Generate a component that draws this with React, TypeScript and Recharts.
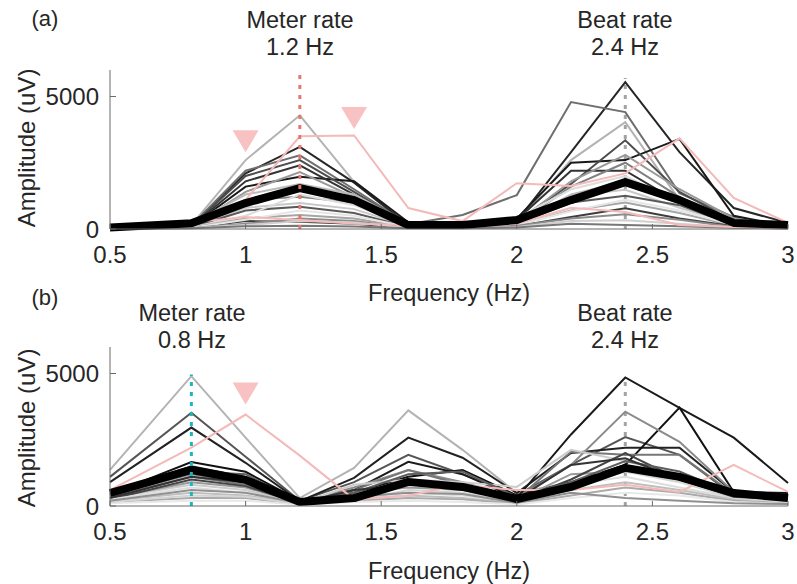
import React from "react";
import { LineChart, Line, XAxis, YAxis, ReferenceLine, ReferenceDot } from "recharts";

const FREQS = [0.5, 0.8, 1.0, 1.2, 1.4, 1.6, 1.8, 2.0, 2.2, 2.4, 2.6, 2.8, 3.0];
const X_TICKS = [0.5, 1, 1.5, 2, 2.5, 3];
const Y_TICKS = [0, 5000];

// (a) meter at 1.2 Hz, beat at 2.4 Hz
const SUBJECTS_A = [
  [60, 150, 2600, 4290, 1780, 120, 80, 250, 2600, 4030, 1090, 250, 80],
  [50, 120, 2100, 3100, 1750, 150, 100, 300, 2900, 5540, 2900, 790, 230],
  [50, 130, 2200, 2780, 1500, 180, 530, 1280, 4790, 4410, 1350, 450, 100],
  [40, 100, 1600, 1970, 1800, 250, 150, 400, 2500, 2600, 3400, 500, 100],
  [40, 100, 2000, 2600, 1400, 150, 120, 300, 1700, 3350, 1400, 300, 80],
  [30, 90, 1800, 2400, 1300, 150, 150, 350, 2200, 2200, 1000, 250, 60],
  [30, 100, 1400, 2150, 1200, 200, 120, 250, 1800, 2800, 1500, 400, 100],
  [30, 100, 1100, 1215, 1000, 150, 100, 200, 1600, 2500, 1200, 300, 80],
  [20, 80, 800, 980, 750, 100, 150, 300, 1250, 1480, 800, 200, 60],
  [20, 70, 700, 840, 600, 80, 100, 200, 1000, 1250, 900, 150, 50],
  [20, 60, 500, 1300, 900, 100, 200, 400, 1500, 2000, 1000, 300, 50],
  [20, 60, 400, 530, 400, 60, 80, 150, 700, 1000, 600, 120, 40],
  [15, 50, 300, 275, 200, 50, 60, 100, 450, 780, 400, 100, 30],
  [15, 50, 350, 700, 500, 80, 90, 150, 670, 1100, 700, 150, 40],
  [10, 40, 200, 400, 300, 40, 50, 120, 400, 560, 350, 80, 20],
  [10, 40, 150, 300, 250, 40, 40, 80, 300, 330, 200, 60, 20],
  [10, 30, 100, 120, 90, 30, 30, 60, 200, 150, 100, 50, 20],
  [40, 200, 1300, 1700, 1300, 200, 150, 200, 1300, 1800, 1100, 200, 50],
];
const SHADES_A = [
  "#b3b3b3", "#262626", "#6e6e6e", "#1a1a1a", "#4d4d4d", "#333333", "#999999", "#808080", "#c8c8c8",
  "#5a5a5a", "#dcdcdc", "#a6a6a6", "#3d3d3d", "#e6e6e6", "#8c8c8c", "#d0d0d0", "#777777", "#bbbbbb",
];
const PINK_A = [30, 300, 1100, 3500, 3530, 790, 300, 1730, 1620, 2100, 3420, 1170, 230];
const PINK_A_LOW = [20, 250, 450, 340, 200, 150, 60, 200, 800, 640, 150, 80, 30];
const MEAN_A = [60, 220, 980, 1540, 1090, 150, 150, 340, 1090, 1770, 1090, 230, 150];

// (b) meter at 0.8 Hz, beat at 2.4 Hz
const SUBJECTS_B = [
  [1360, 4900, 2580, 300, 1440, 3610, 2120, 490, 900, 1500, 1100, 400, 300],
  [1100, 3520, 1860, 200, 900, 1930, 1200, 400, 1550, 2600, 1930, 400, 300],
  [900, 2960, 1630, 180, 1060, 2580, 1820, 490, 2000, 2200, 2200, 530, 350],
  [500, 1500, 1100, 150, 600, 1670, 1200, 300, 2700, 4850, 3700, 2580, 870],
  [450, 1660, 1290, 200, 500, 1100, 1360, 400, 900, 1550, 3710, 530, 490],
  [400, 1200, 900, 150, 700, 1360, 900, 300, 1550, 3560, 2420, 530, 300],
  [350, 1100, 800, 150, 600, 1360, 800, 250, 2050, 1930, 1930, 450, 300],
  [300, 800, 600, 100, 800, 1000, 900, 720, 2120, 1700, 1200, 400, 250],
  [300, 900, 700, 120, 500, 700, 600, 200, 1200, 1300, 1000, 350, 200],
  [250, 1000, 750, 100, 400, 900, 700, 200, 1000, 2000, 1000, 400, 300],
  [250, 700, 500, 100, 300, 500, 400, 150, 800, 1100, 700, 300, 200],
  [200, 500, 400, 80, 250, 400, 300, 100, 600, 900, 600, 250, 150],
  [150, 300, 300, 60, 200, 300, 250, 80, 400, 700, 500, 200, 100],
  [100, 200, 200, 50, 150, 200, 150, 60, 300, 500, 400, 150, 80],
  [400, 1300, 1200, 150, 500, 1200, 1300, 350, 900, 1700, 1300, 450, 350],
  [150, 400, 350, 80, 200, 600, 500, 150, 700, 1300, 900, 300, 150],
  [300, 1100, 900, 120, 600, 800, 800, 250, 1550, 1800, 1000, 350, 250],
  [200, 600, 500, 100, 350, 500, 450, 120, 500, 300, 200, 100, 80],
];
const SHADES_B = [
  "#b3b3b3", "#555555", "#222222", "#1a1a1a", "#111111", "#8a8a8a", "#777777", "#cccccc", "#999999",
  "#444444", "#dddddd", "#bfbfbf", "#aaaaaa", "#e8e8e8", "#5e5e5e", "#d4d4d4", "#333333", "#909090",
];
const PINK_B = [600, 2200, 3450, 1900, 250, 400, 800, 600, 600, 800, 530, 1550, 530];
const MEAN_B = [490, 1360, 985, 150, 300, 910, 720, 265, 720, 1440, 1100, 490, 300];

const FONT = "'Liberation Sans', Arial, sans-serif";
const TEXT = "#262626";
const AXIS = "#6b6b6b";
const PINK = "#f4b9b9";
const MARK = "#f9c2c2";

function buildRows(subjects: number[][], extra: Record<string, number[]>) {
  return FREQS.map((f, i) => {
    const row: Record<string, number> = { f };
    subjects.forEach((s, k) => {
      row[`s${k}`] = s[i];
    });
    Object.entries(extra).forEach(([key, vals]) => {
      row[key] = vals[i];
    });
    return row;
  });
}

const Triangle = (props: any) => {
  const { cx, cy } = props;
  return <path d={`M${cx - 13},${cy - 11} L${cx + 13},${cy - 11} L${cx},${cy + 11} Z`} fill={MARK} />;
};

type PanelProps = {
  rows: Record<string, number>[];
  shades: string[];
  pinkKeys: string[];
  top: number;
  height: number;
  marginTop: number;
  marginBottom: number;
  meter: { hz: number; top: number; color: string };
  beat: { hz: number; top: number };
  marks: { x: number; y: number }[];
};

function Panel({ rows, shades, pinkKeys, top, height, marginTop, marginBottom, meter, beat, marks }: PanelProps) {
  return (
    <div style={{ position: "absolute", left: 0, top }}>
      <LineChart width={797} height={height} data={rows} margin={{ top: marginTop, right: 9, bottom: marginBottom, left: 50 }}>
        <XAxis
          dataKey="f"
          type="number"
          domain={[0.5, 3]}
          ticks={X_TICKS}
          height={30}
          stroke={AXIS}
          tickSize={-5}
          tickMargin={22}
          tick={{ fontSize: 24, fill: TEXT, fontFamily: FONT }}
          tickFormatter={(v) => String(v)}
        />
        <YAxis
          type="number"
          domain={[0, 6000]}
          ticks={Y_TICKS}
          width={60}
          stroke={AXIS}
          tickSize={-6}
          tickMargin={17}
          tick={{ fontSize: 24, fill: TEXT, fontFamily: FONT }}
        />
        <ReferenceLine segment={[{ x: beat.hz, y: 0 }, { x: beat.hz, y: beat.top }]} stroke="#a3a3a3" strokeWidth={3} strokeDasharray="4 6" />
        {shades.map((c, k) => (
          <Line key={k} dataKey={`s${k}`} stroke={c} strokeWidth={2} dot={false} isAnimationActive={false} />
        ))}
        {pinkKeys.map((key) => (
          <Line key={key} dataKey={key} stroke={PINK} strokeWidth={2} dot={false} isAnimationActive={false} />
        ))}
        <Line dataKey="mean" stroke="#000" strokeWidth={8} strokeLinejoin="round" dot={false} isAnimationActive={false} />
        <ReferenceLine segment={[{ x: meter.hz, y: 0 }, { x: meter.hz, y: meter.top }]} stroke={meter.color} strokeWidth={3} strokeDasharray="4 6" />
        {marks.map((m, i) => (
          <ReferenceDot key={i} x={m.x} y={m.y} r={12} shape={Triangle} />
        ))}
      </LineChart>
    </div>
  );
}

const rowsA = buildRows(SUBJECTS_A, { pink: PINK_A, pinkLow: PINK_A_LOW, mean: MEAN_A });
const rowsB = buildRows(SUBJECTS_B, { pink: PINK_B, mean: MEAN_B });

export default function App() {
  const label = { fontFamily: FONT, fill: TEXT, fontSize: 23.5 };
  return (
    <div style={{ position: "absolute", left: 0, top: 0, width: 797, height: 584, background: "#fff", overflow: "hidden" }}>
      <Panel
        rows={rowsA}
        shades={SHADES_A}
        pinkKeys={["pinkLow", "pink"]}
        top={0}
        height={290}
        marginTop={70}
        marginBottom={31}
        meter={{ hz: 1.2, top: 5850, color: "#e8766f" }}
        beat={{ hz: 2.4, top: 5700 }}
        marks={[{ x: 1.0, y: 3310 }, { x: 1.4, y: 4190 }]}
      />
      <Panel
        rows={rowsB}
        shades={SHADES_B}
        pinkKeys={["pink"]}
        top={290}
        height={294}
        marginTop={57}
        marginBottom={48}
        meter={{ hz: 0.8, top: 4960, color: "#1fb4be" }}
        beat={{ hz: 2.4, top: 4890 }}
        marks={[{ x: 1.0, y: 4245 }]}
      />
      <svg width={797} height={584} style={{ position: "absolute", left: 0, top: 0, pointerEvents: "none" }}>
        <g {...label} textAnchor="middle" dominantBaseline="central">
          <text x={45} y={18} fontSize={22}>(a)</text>
          <text x={300} y={20}>Meter rate</text>
          <text x={300} y={47}>1.2 Hz</text>
          <text x={625} y={20}>Beat rate</text>
          <text x={625} y={47}>2.4 Hz</text>
          <text x={449} y={293}>Frequency (Hz)</text>
          <text x={26} y={148} fontSize={24} transform="rotate(-90 26 148)">Amplitude (uV)</text>
          <text x={45} y={297} fontSize={22}>(b)</text>
          <text x={192} y={313}>Meter rate</text>
          <text x={192} y={340}>0.8 Hz</text>
          <text x={625} y={313}>Beat rate</text>
          <text x={625} y={340}>2.4 Hz</text>
          <text x={449} y={571}>Frequency (Hz)</text>
          <text x={26} y={428} fontSize={24} transform="rotate(-90 26 428)">Amplitude (uV)</text>
        </g>
      </svg>
    </div>
  );
}
